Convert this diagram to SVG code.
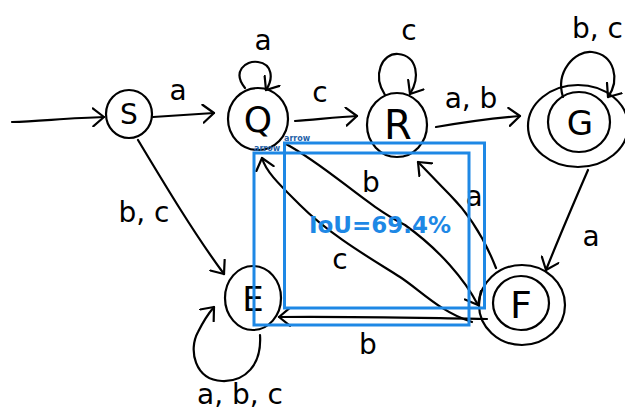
<svg xmlns="http://www.w3.org/2000/svg" width="625" height="413" viewBox="0 0 625 413">
<defs>
<style>
.st{fill:none;stroke:#000;stroke-width:2.2;stroke-linecap:round;stroke-linejoin:round}
.nl{font-family:"DejaVu Sans","Liberation Sans",sans-serif;font-weight:normal;fill:#000;text-anchor:middle}
.el{font-family:"DejaVu Sans","Liberation Sans",sans-serif;font-size:28px;fill:#000;text-anchor:middle}
.box{fill:none;stroke:#1e88e5;stroke-width:3}
.bl{font-family:"DejaVu Sans",sans-serif;font-weight:bold;font-size:8px;fill:#1f5fa8}
.iou{font-family:"DejaVu Sans",sans-serif;font-weight:bold;font-size:23px;fill:#1e88e5}
</style>
<marker id="ah" viewBox="0 0 14 20" markerWidth="14" markerHeight="20" refX="12" refY="10" orient="auto" markerUnits="userSpaceOnUse">
<path d="M1,1 L12,10 L1,19" fill="none" stroke="#000" stroke-width="2.2" stroke-linecap="round" stroke-linejoin="round"/>
</marker>
</defs>
<rect width="625" height="413" fill="#fff"/>

<g id="connectors">
<path class="st" marker-end="url(#ah)" d="M12,122 C40,121 70,118 104,117"/>
<path class="st" marker-end="url(#ah)" d="M153,117 L214,113"/>
<path class="st" marker-end="url(#ah)" d="M245,88 C232,72 245,60 258,62 C272,64 274,78 266,90"/>
<path class="st" marker-end="url(#ah)" d="M295,121 C320,119 340,117 357,116"/>
<path class="st" marker-end="url(#ah)" d="M385,95 C372,75 382,53 398,54 C418,56 420,78 410,94"/>
<path class="st" marker-end="url(#ah)" d="M436,127 C465,122 495,118 520,116"/>
<path class="st" marker-end="url(#ah)" d="M563,97 C555,72 575,50 592,52 C615,55 620,80 608,97"/>
<path class="st" marker-end="url(#ah)" d="M138,140 C165,185 195,235 224,274"/>
<path class="st" marker-end="url(#ah)" d="M588,170 C575,200 560,235 546,270"/>
<path class="st" marker-end="url(#ah)" d="M286,144 C330,168 365,205 405,225 C440,250 465,280 478,305"/>
<path class="st" marker-end="url(#ah)" d="M472,322 C440,312 420,290 400,277 C370,258 330,235 300,205 C280,185 266,172 262,158"/>
<path class="st" marker-end="url(#ah)" d="M496,268 C485,240 470,215 450,195 C437,182 428,172 418,162"/>
<path class="st" marker-end="url(#ah)" d="M487,319 C420,318 340,316 279,317"/>
<path class="st" marker-end="url(#ah)" d="M260,335 C262,365 245,382 222,381 C195,380 188,350 198,332 C203,322 208,314 214,307"/>
<text class="el" x="178" y="100">a</text>
<text class="el" x="263" y="50">a</text>
<text class="el" x="320" y="102">c</text>
<text class="el" x="409" y="40">c</text>
<text class="el" x="471" y="108">a, b</text>
<text class="el" x="572" y="38" font-size="25" style="text-anchor:start">b, c</text>
<text class="el" x="144" y="222">b, c</text>
<text class="el" x="591" y="246">a</text>
<text class="el" x="371" y="192">b</text>
<text class="el" x="340" y="269">c</text>
<text class="el" x="474" y="206">a</text>
<text class="el" x="368" y="354">b</text>
<text class="el" x="240" y="404">a, b, c</text>
</g>

<g id="S"><ellipse class="st" cx="129" cy="114" rx="23" ry="24"/><text class="nl" x="129" y="124" font-size="28">S</text></g>
<g id="Q"><ellipse class="st" cx="258" cy="119" rx="30" ry="31"/><text class="nl" x="258" y="132" font-size="36">Q</text></g>
<g id="R"><ellipse class="st" cx="397" cy="125" rx="30" ry="32"/><text class="nl" x="398" y="139" font-size="40">R</text></g>
<g id="G"><ellipse class="st" cx="578" cy="126" rx="50" ry="41"/><ellipse class="st" cx="579" cy="122" rx="31" ry="30"/><text class="nl" x="580" y="135" font-size="34">G</text></g>
<g id="E"><ellipse class="st" cx="253" cy="298" rx="28" ry="32"/><text class="nl" x="253" y="311" font-size="34">E</text></g>
<g id="F"><ellipse class="st" cx="522" cy="305" rx="43" ry="40"/><ellipse class="st" cx="521" cy="303" rx="28" ry="27"/><text class="nl" x="521" y="318" font-size="38">F</text></g>

<g id="overlay">
<rect class="box" x="254" y="153" width="215" height="172"/>
<rect class="box" x="284.5" y="143" width="200" height="165"/>
<text class="bl" x="254" y="151">arrow</text>
<text class="bl" x="284" y="141">arrow</text>
<text class="iou" x="309" y="233">IoU=69.4%</text>
</g>
</svg>
